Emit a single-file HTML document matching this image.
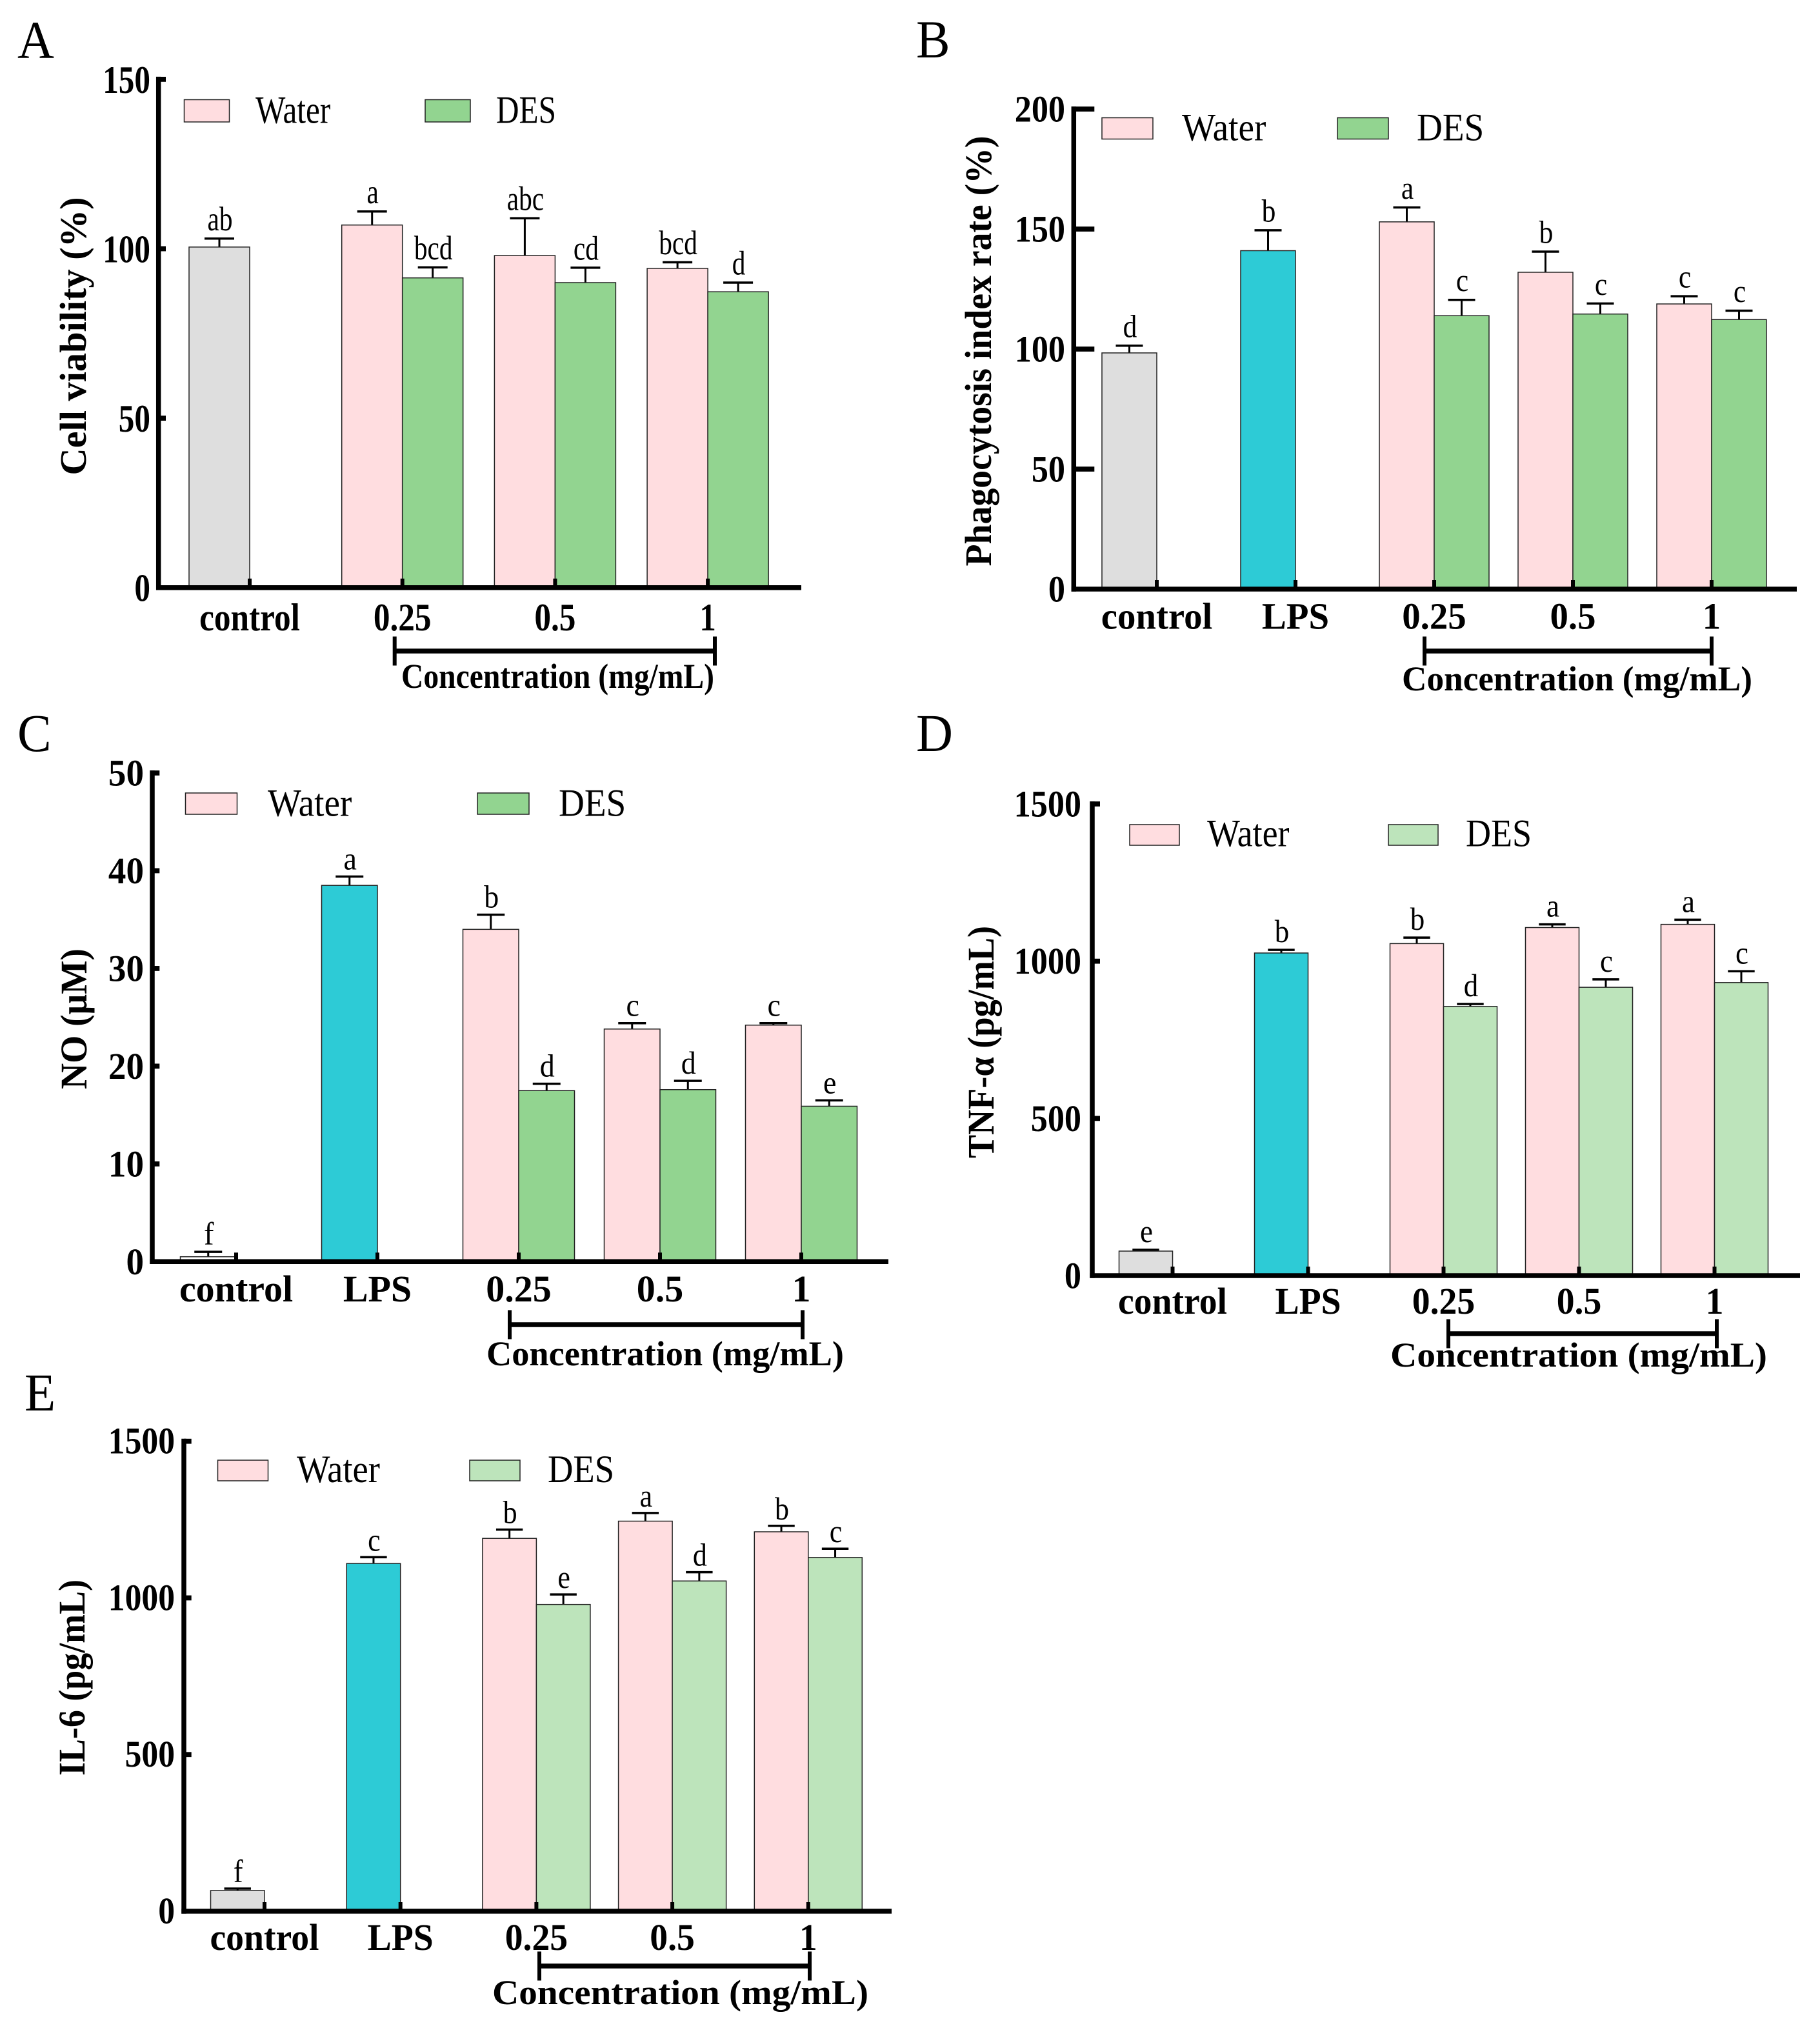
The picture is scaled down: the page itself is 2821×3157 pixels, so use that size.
<!DOCTYPE html>
<html lang="en">
<head>
<meta charset="utf-8">
<title>Cell viability, phagocytosis and cytokine bar charts</title>
<style>
html,body{margin:0;padding:0;background:#fff}
svg{display:block}
text{font-family:"Liberation Serif",serif;fill:#000}
</style>
</head>
<body>
<svg id="fig" xmlns="http://www.w3.org/2000/svg" width="2821" height="3157" viewBox="0 0 2821 3157">
<rect x="0" y="0" width="2821" height="3157" fill="#ffffff"/>
</svg>
<script>
// ---------- Panel A ----------
const aCategories = ['control', '0.25', '0.5', '1'];
const aWater = [100.5, 107, 98, 94.2];
const aWaterErr = [2.5, 4, 11, 1.8];
const aWaterLetters = ['ab', 'a', 'abc', 'bcd'];
const aDes = [null, 91.4, 90, 87.3];
const aDesErr = [null, 3.1, 4.4, 2.7];
const aDesLetters = [null, 'bcd', 'cd', 'd'];
const aTicks = [0, 50, 100, 150];

// ---------- Panel B ----------
const bCategories = ['control', 'LPS', '0.25', '0.5', '1'];
const bWater = [98.4, 141, 153, 132, 118.8];
const bWaterErr = [3, 8.5, 6, 8.6, 3.2];
const bWaterLetters = ['d', 'b', 'a', 'b', 'c'];
const bDes = [null, null, 113.9, 114.6, 112.3];
const bDesErr = [null, null, 6.6, 4.4, 3.7];
const bDesLetters = [null, null, 'c', 'c', 'c'];
const bTicks = [0, 50, 100, 150, 200];

// ---------- Panel C ----------
const cCategories = ['control', 'LPS', '0.25', '0.5', '1'];
const cWater = [0.5, 38.5, 34, 23.8, 24.2];
const cWaterErr = [0.5, 0.9, 1.5, 0.6, 0.2];
const cWaterLetters = ['f', 'a', 'b', 'c', 'c'];
const cDes = [null, null, 17.5, 17.6, 15.9];
const cDesErr = [null, null, 0.7, 0.9, 0.6];
const cDesLetters = [null, null, 'd', 'd', 'e'];
const cTicks = [0, 10, 20, 30, 40, 50];

// ---------- Panel D ----------
const dCategories = ['control', 'LPS', '0.25', '0.5', '1'];
const dWater = [78, 1026, 1056, 1107, 1117];
const dWaterErr = [4, 10, 19, 10, 15];
const dWaterLetters = ['e', 'b', 'b', 'a', 'a'];
const dDes = [null, null, 856, 917, 932];
const dDesErr = [null, null, 8, 25, 36];
const dDesLetters = [null, null, 'd', 'c', 'c'];
const dTicks = [0, 500, 1000, 1500];

// ---------- Panel E ----------
const eCategories = ['control', 'LPS', '0.25', '0.5', '1'];
const eWater = [66, 1110, 1190, 1245, 1211];
const eWaterErr = [6, 20, 28, 26, 19];
const eWaterLetters = ['f', 'c', 'b', 'a', 'b'];
const eDes = [null, null, 979, 1054, 1129];
const eDesErr = [null, null, 32, 28, 28];
const eDesLetters = [null, null, 'e', 'd', 'c'];
const eTicks = [0, 500, 1000, 1500];

const COLORS = { control: '#dedede', LPS: '#2dcbd6', water: '#ffdde0', desDark: '#92d490', desLight: '#bde4bb' };
const SVGNS = 'http://www.w3.org/2000/svg';
const svg = document.getElementById('fig');

function shape(parent, tag, name, attrs) {
  const el = document.createElementNS(SVGNS, tag);
  
  
  for (const k in attrs) el.setAttribute(k, attrs[k]);
  parent.appendChild(el);
  return el;
}
function label(parent, name, str, x, y, size, opts) {
  const o = opts || {};
  const sx = o.sx || 1;
  const rot = o.rot ? ' rotate(-90)' : '';
  const attrs = {
    transform: 'translate(' + x + ',' + y + ')' + rot + ' scale(' + sx + ',1)',
    'font-size': size,
    'font-weight': o.bold ? 'bold' : 'normal',
    'text-anchor': o.anchor || 'start'
  };
  if (o.len) { attrs.textLength = o.len; attrs.lengthAdjust = 'spacingAndGlyphs'; }
  const el = shape(parent, 'text', name, attrs);
  el.textContent = str;
  return el;
}
function line(parent, name, x1, y1, x2, y2, w) {
  return shape(parent, 'line', name, { x1: x1, y1: y1, x2: x2, y2: y2, stroke: '#000', 'stroke-width': w });
}

function drawPanel(p) {
  const g = shape(svg, 'g', 'panel-' + p.id, {});
  const yAxis = v => p.base - (v / p.max) * (p.base - p.top);
  const xAxis = i => p.x0 + i * p.step;

  label(g, 'panel-letter-' + p.id, p.id.toUpperCase(), p.letterX, p.letterY, 83, { sx: 0.95 });

  // bars + error bars + significance letters
  p.categories.forEach((cat, i) => {
    const tx = xAxis(i);
    [[p.water, p.waterErr, p.waterLetters, -p.barW, 'water'], [p.des, p.desErr, p.desLetters, 0, 'des']].forEach(s => {
      const v = s[0][i];
      if (v === null || v === undefined) return;
      const left = tx + s[3];
      const cx = left + p.barW / 2;
      const top = yAxis(v);
      const errTop = yAxis(v + s[1][i]);
      const fill = s[4] === 'des' ? p.desColor : (cat === 'control' ? (p.controlColor || COLORS.control) : cat === 'LPS' ? COLORS.LPS : COLORS.water);
      line(g, 'error-stem-' + s[4] + '-' + cat, cx, top, cx, errTop, 3);
      line(g, 'error-cap-' + s[4] + '-' + cat, cx - p.capHalf, errTop, cx + p.capHalf, errTop, 3.5);
      shape(g, 'rect', 'bar-' + s[4] + '-' + cat, { x: left, y: top, width: p.barW, height: p.base - top, fill: fill, stroke: '#222', 'stroke-width': 1.5 });
      label(g, 'significance-letter-' + s[4] + '-' + cat, s[2][i], cx + 1, errTop - p.letterGap, p.letterSize, { anchor: 'middle', sx: p.letterSx });
    });
  });

  // axes
  line(g, 'y-axis', p.axisX, p.top - 4, p.axisX, p.base + 3.7, 7.5);
  line(g, 'x-axis', p.axisX - 3.7, p.base, p.right, p.base, 7.5);

  p.ticks.forEach(t => {
    const y = yAxis(t);
    if (t > 0) line(g, 'y-tick-' + t, p.axisX, y, p.axisX + p.tickLen, y, 7.8);
    label(g, 'y-tick-label-' + t, String(t), p.tickRight, y + p.tickDy, p.numSize, { bold: true, anchor: 'end', sx: p.tickSx });
  });

  p.categories.forEach((cat, i) => {
    const tx = xAxis(i);
    line(g, 'x-tick-' + cat, tx, p.base, tx, p.base - 14, 6);
    label(g, 'x-tick-label-' + cat, cat, tx, p.xLabelY, p.numSize, { bold: true, anchor: 'middle', sx: p.xSx });
  });

  // y title
  label(g, 'y-axis-title-' + p.id, p.title, p.titleX, p.titleY, 58, { bold: true, rot: true, anchor: 'middle', len: p.titleLen });

  // concentration bracket
  line(g, 'bracket-bar-' + p.id, p.brL, p.brY, p.brR, p.brY, 7.5);
  line(g, 'bracket-left-' + p.id, p.brL, p.brY - 22.5, p.brL, p.brY + 22.5, 6);
  line(g, 'bracket-right-' + p.id, p.brR, p.brY - 22.5, p.brR, p.brY + 22.5, 6);
  label(g, 'concentration-label-' + p.id, 'Concentration (mg/mL)', p.concX, p.concY, 54, { bold: true, len: p.concLen });

  // legend
  const lw = p.swatchW, lh = p.swatchH;
  shape(g, 'rect', 'legend-swatch-water-' + p.id, { x: p.legX1, y: p.legY, width: lw, height: lh, fill: COLORS.water, stroke: '#222', 'stroke-width': 1.5 });
  label(g, 'legend-label-water-' + p.id, 'Water', p.legTextX1, p.legBase, 60, { sx: p.legSx });
  shape(g, 'rect', 'legend-swatch-des-' + p.id, { x: p.legX2, y: p.legY, width: lw, height: lh, fill: p.desColor, stroke: '#222', 'stroke-width': 1.5 });
  label(g, 'legend-label-des-' + p.id, 'DES', p.legTextX2, p.legBase, 60, { sx: p.legSx });
}

drawPanel({
  id: 'a', categories: aCategories, water: aWater, waterErr: aWaterErr, waterLetters: aWaterLetters,
  des: aDes, desErr: aDesErr, desLetters: aDesLetters, ticks: aTicks, max: 150,
  axisX: 245.7, top: 122.9, base: 910.7, right: 1242, x0: 387, step: 236.7, barW: 94, tickLen: 11.3, capHalf: 23,
  numSize: 60, tickRight: 233, tickSx: 0.82, tickDy: 21, xLabelY: 977, xSx: 0.855,
  letterGap: 12.5, letterSx: 0.78, letterSize: 53,
  letterX: 27, letterY: 90, desColor: COLORS.desDark,
  title: 'Cell viability (%)', titleX: 133, titleY: 521, titleLen: 431,
  brL: 611.7, brR: 1108, brY: 1009, concX: 622, concY: 1066, concLen: 485,
  legX1: 285.5, legX2: 659, legY: 154.5, swatchW: 70, swatchH: 34.5, legTextX1: 396, legTextX2: 769, legBase: 190.5, legSx: 0.82
});
drawPanel({
  id: 'b', categories: bCategories, water: bWater, waterErr: bWaterErr, waterLetters: bWaterLetters,
  des: bDes, desErr: bDesErr, desLetters: bDesLetters, ticks: bTicks, max: 200,
  axisX: 1664.3, top: 169, base: 913, right: 2785, x0: 1793, step: 215, barW: 85, tickLen: 32, capHalf: 21,
  numSize: 58, tickRight: 1651, tickSx: 0.9, tickDy: 19.5, xLabelY: 974.5, xSx: 0.98,
  letterGap: 13.5, letterSx: 0.87, letterSize: 50,
  letterX: 1420, letterY: 89, desColor: COLORS.desDark,
  title: 'Phagocytosis index rate (%)', titleX: 1536, titleY: 544, titleLen: 667,
  brL: 2208, brR: 2653, brY: 1009, concX: 2173, concY: 1070, concLen: 543,
  legX1: 1708, legX2: 2073, legY: 182.5, swatchW: 79, swatchH: 33, legTextX1: 1832, legTextX2: 2196, legBase: 217.5, legSx: 0.92
});
drawPanel({
  id: 'c', categories: cCategories, water: cWater, waterErr: cWaterErr, waterLetters: cWaterLetters,
  des: cDes, desErr: cDesErr, desLetters: cDesLetters, ticks: cTicks, max: 50, controlColor: '#ffffff',
  axisX: 236, top: 1198, base: 1955.3, right: 1377, x0: 366, step: 219, barW: 86.5, tickLen: 11.3, capHalf: 21.5,
  numSize: 58, tickRight: 223, tickSx: 0.95, tickDy: 19.5, xLabelY: 2017, xSx: 1,
  letterGap: 11, letterSx: 0.92, letterSize: 50,
  letterX: 27, letterY: 1164, desColor: COLORS.desDark,
  title: 'NO (\u03BCM)', titleX: 134, titleY: 1579, titleLen: 218,
  brL: 790, brR: 1244, brY: 2053, concX: 754, concY: 2116, concLen: 554,
  legX1: 287.5, legX2: 740, legY: 1229, swatchW: 80, swatchH: 33, legTextX1: 415, legTextX2: 866, legBase: 1264.5, legSx: 0.92
});
drawPanel({
  id: 'd', categories: dCategories, water: dWater, waterErr: dWaterErr, waterLetters: dWaterLetters,
  des: dDes, desErr: dDesErr, desLetters: dDesLetters, ticks: dTicks, max: 1500,
  axisX: 1693, top: 1246, base: 1977, right: 2790, x0: 1817.5, step: 210, barW: 83, tickLen: 12, capHalf: 20.7,
  numSize: 58, tickRight: 1676, tickSx: 0.9, tickDy: 19.5, xLabelY: 2036, xSx: 0.96,
  letterGap: 12, letterSx: 0.9, letterSize: 50,
  letterX: 1420, letterY: 1164, desColor: COLORS.desLight,
  title: 'TNF-\u03B1 (pg/mL)', titleX: 1540, titleY: 1615, titleLen: 360,
  brL: 2245, brR: 2661, brY: 2067, concX: 2155, concY: 2118, concLen: 584,
  legX1: 1751, legX2: 2152, legY: 1278, swatchW: 77, swatchH: 32, legTextX1: 1871, legTextX2: 2272, legBase: 1311.5, legSx: 0.9
});
drawPanel({
  id: 'e', categories: eCategories, water: eWater, waterErr: eWaterErr, waterLetters: eWaterLetters,
  des: eDes, desErr: eDesErr, desLetters: eDesLetters, ticks: eTicks, max: 1500,
  axisX: 285, top: 2233.7, base: 2962, right: 1382, x0: 410, step: 210.7, barW: 83.5, tickLen: 11.7, capHalf: 20.7,
  numSize: 58, tickRight: 271, tickSx: 0.89, tickDy: 19, xLabelY: 3022, xSx: 0.96,
  letterGap: 10, letterSx: 0.88, letterSize: 50,
  letterX: 38, letterY: 2186, desColor: COLORS.desLight,
  title: 'IL-6 (pg/mL)', titleX: 131, titleY: 2600, titleLen: 304,
  brL: 836, brR: 1255, brY: 3047, concX: 763, concY: 3106, concLen: 583,
  legX1: 337.5, legX2: 728, legY: 2263, swatchW: 78, swatchH: 32, legTextX1: 460, legTextX2: 849, legBase: 2297, legSx: 0.91
});
</script>
</body>
</html>
